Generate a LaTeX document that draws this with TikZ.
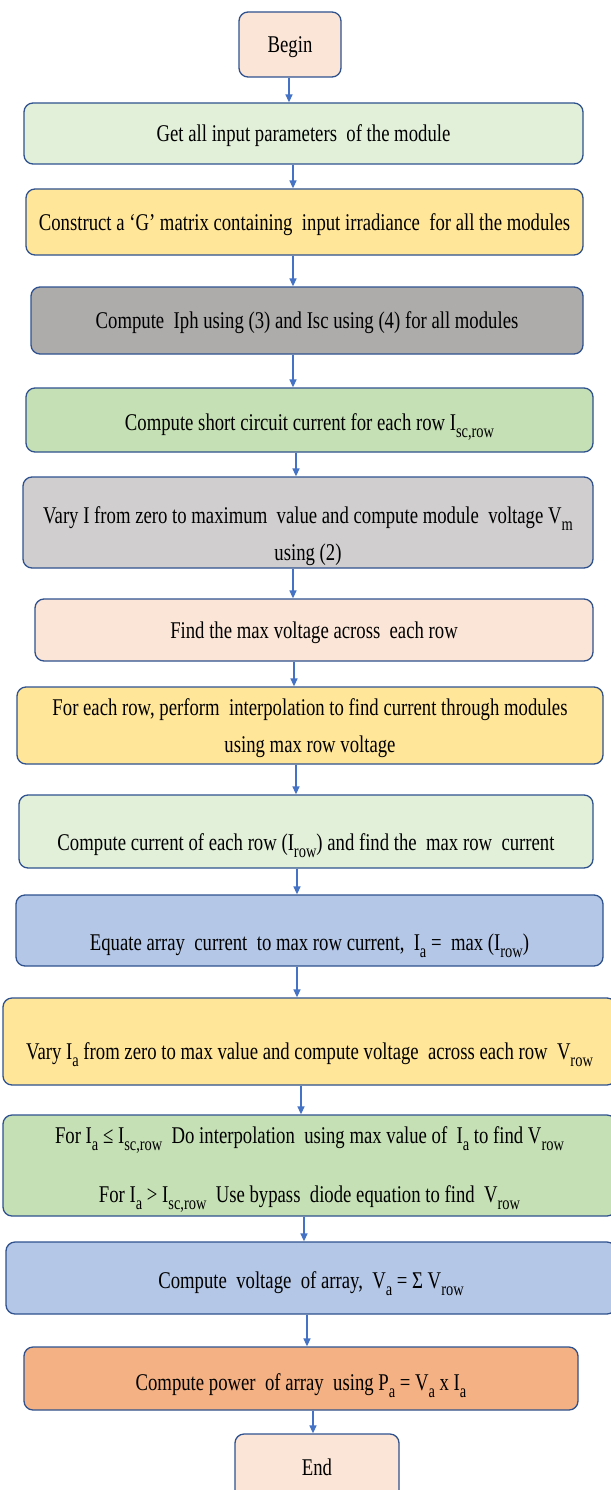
\documentclass[tikz,border=0pt]{standalone}
\usepackage{fontspec}
\setmainfont{Liberation Serif}[FakeStretch=0.78]
\usepackage{xcolor}
\usetikzlibrary{arrows.meta}

\definecolor{boxedge}{HTML}{2F528F}
\definecolor{arrowblue}{HTML}{4472C4}
\definecolor{peach}{HTML}{FBE5D6}
\definecolor{palegreen}{HTML}{E2F0D9}
\definecolor{gold}{HTML}{FFE699}
\definecolor{darkgrey}{HTML}{AEABAB}
\definecolor{midgreen}{HTML}{C5E0B4}
\definecolor{lightgrey}{HTML}{D0CECE}
\definecolor{paleblue}{HTML}{B4C7E7}
\definecolor{orange}{HTML}{F4B183}

\newcommand{\lowidx}[1]{\raisebox{-0.3em}{\fontsize{18.5}{18.5}\selectfont #1}}

\tikzset{
  stepbox/.style={
    draw=boxedge,
    line width=1.3pt,
    rounded corners=9pt,
    align=center,
    inner sep=0pt,
    text height=21pt,
    text depth=5pt,
    font=\fontsize{24}{37}\selectfont
  },
  peachbox/.style={stepbox, fill=peach},
  paleg/.style={stepbox, fill=palegreen},
  goldbox/.style={stepbox, fill=gold},
  darkg/.style={stepbox, fill=darkgrey},
  midg/.style={stepbox, fill=midgreen},
  lightg/.style={stepbox, fill=lightgrey},
  blueb/.style={stepbox, fill=paleblue},
  orangeb/.style={stepbox, fill=orange},
  flow/.style={-{Triangle[length=8pt,width=7pt]}, line width=1.5pt, draw=arrowblue}
}

\begin{document}
\begin{tikzpicture}[x=1pt, y=-1pt]
  \fill[white] (0,0) rectangle (610,1490);
  \useasboundingbox (0,0) rectangle (610,1490);

  \node[peachbox, minimum width=102pt, minimum height=65pt] (begin) at (290,44.5) {Begin};
  \node[paleg, minimum width=559pt, minimum height=61pt] (get) at (303.5,133.5) {Get all input parameters~ of the module};
  \node[goldbox, minimum width=557pt, minimum height=66pt] (construct) at (304.5,222) {Construct a ‘G’ matrix containing~ input irradiance~ for all the modules};
  \node[darkg, minimum width=552pt, minimum height=67pt] (iph) at (307,320.5) {Compute~ Iph using (3) and Isc using (4) for all modules};
  \node[midg, minimum width=567pt, minimum height=64pt, text height=26pt] (short) at (309.5,420) {Compute short circuit current for each row I\lowidx{sc,row}};
  \node[lightg, minimum width=570pt, minimum height=91pt, text height=81pt] (varyi) at (308,522.5) {Vary I from zero to maximum~ value and compute module~ voltage V\lowidx{m}\\using (2)};
  \node[peachbox, minimum width=558pt, minimum height=62pt] (find) at (314,630) {Find the max voltage across~ each row};
  \node[goldbox, minimum width=586pt, minimum height=77pt, text height=58pt] (foreach) at (310,725.5) {For each row, perform~ interpolation to find current through modules\\using max row voltage};
  \node[paleg, minimum width=574pt, minimum height=73pt, text height=42pt] (current) at (306,831.5) {Compute current of each row (I\lowidx{row}) and find the~ max row~ current};
  \node[blueb, minimum width=587pt, minimum height=71pt, text height=44pt] (equate) at (309.5,930.5) {Equate array~ current~ to max row current,~ I\lowidx{a} =~ max (I\lowidx{row})};
  \node[goldbox, minimum width=613pt, minimum height=87pt, text height=40pt] (varyia) at (309.5,1041.5) {Vary I\lowidx{a} from zero to max value and compute voltage~ across each row~ V\lowidx{row}};
  \node[midg, minimum width=613pt, minimum height=101pt, text height=79pt] (foria) at (309.5,1165.5) {For I\lowidx{a} ≤ I\lowidx{sc,row}~ Do interpolation~ using max value of~ I\lowidx{a} to find V\lowidx{row}\\[22pt]For I\lowidx{a} > I\lowidx{sc,row}~ Use bypass~ diode equation to find~ V\lowidx{row}};
  \node[blueb, minimum width=610pt, minimum height=72pt, text height=26pt] (voltage) at (311,1278) {Compute~ voltage~ of array,~ V\lowidx{a} = Σ V\lowidx{row}};
  \node[orangeb, minimum width=554pt, minimum height=63pt, text height=28pt] (power) at (301,1378.5) {Compute power~ of array~ using P\lowidx{a} = V\lowidx{a} x I\lowidx{a}};
  \node[peachbox, minimum width=164pt, minimum height=66pt] (end) at (317,1467) {End};

  % arrows, each at its own x
  \foreach \a/\b/\x in {begin/get/289, get/construct/293, construct/iph/293,
      iph/short/293, short/varyi/296, varyi/find/293, find/foreach/294,
      foreach/current/296, current/equate/297, equate/varyia/297,
      varyia/foria/301, foria/voltage/304, voltage/power/307, power/end/313}
    \draw[flow] (\x,0 |- \a.south) -- (\x,0 |- \b.north);
\end{tikzpicture}
\end{document}
